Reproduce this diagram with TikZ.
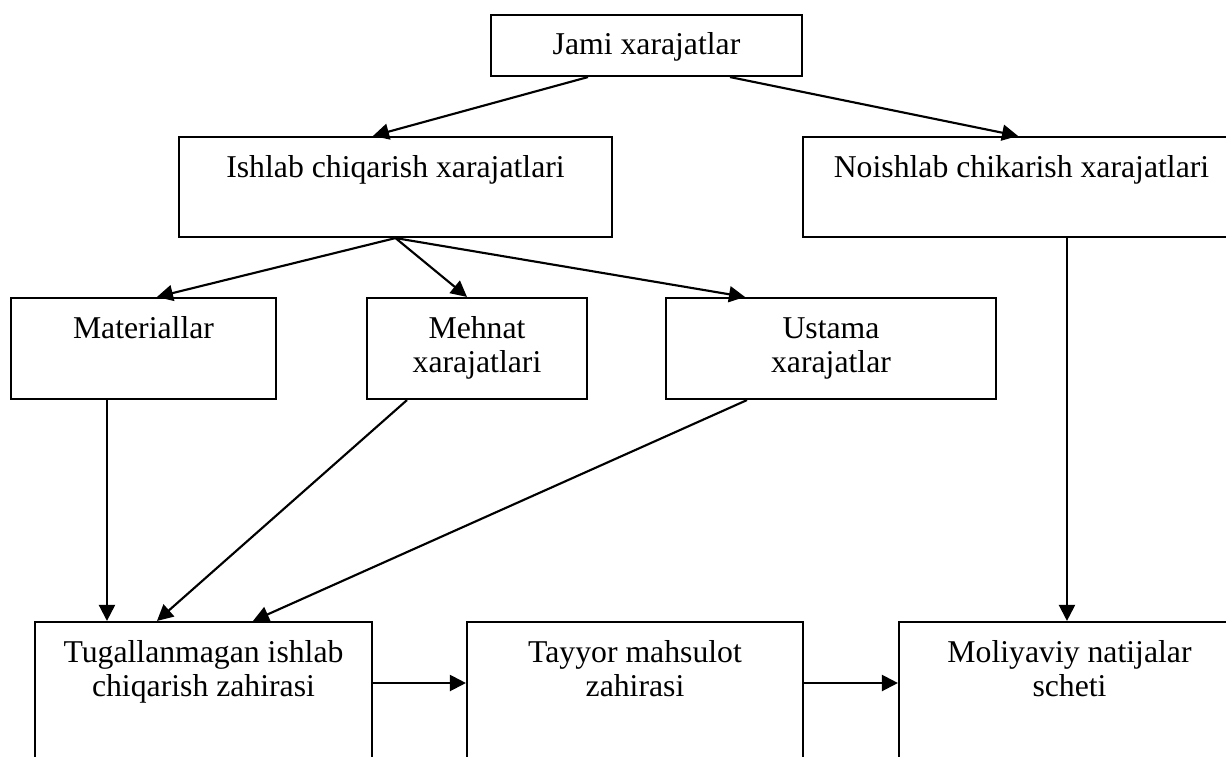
\documentclass[tikz,border=0pt]{standalone}
\usepackage{fontspec}
\setmainfont{Liberation Serif}
\usetikzlibrary{arrows.meta}

\begin{document}
\begin{tikzpicture}[x=0.75pt, y=-0.75pt,
  box/.style={draw, line width=1.6pt, inner xsep=2pt, inner ysep=0pt, align=center, text height=30pt, font=\fontsize{23.8}{26}\selectfont},
  twoline/.style={text height=56pt},
  arr/.style={line width=1.6pt, -{Triangle[length=12pt, width=12pt]}}]
\clip (0,0) rectangle (1226,756);
% top level
\node[box, minimum width=233.25pt, minimum height=45.75pt, text depth=15.75pt] (jami) at (646.5,45.5) {Jami xarajatlar};
\node[box, minimum width=324.75pt, minimum height=75pt, text depth=45pt] (ish) at (395.5,187) {Ishlab chiqarish xarajatlari};
\node[box, minimum width=327.75pt, minimum height=75pt, text depth=45pt] (noi) at (1021.5,187) {Noishlab chikarish xarajatlari};
% cost items
\node[box, minimum width=198.75pt, minimum height=75.75pt, text depth=45.75pt] (mat) at (143.5,348.5) {Materiallar};
\node[box, twoline, minimum width=165pt, minimum height=75.75pt, text depth=19.75pt] (meh) at (477,348.5) {Mehnat\\xarajatlari};
\node[box, twoline, minimum width=247.5pt, minimum height=75.75pt, text depth=19.75pt] (ust) at (831,348.5) {Ustama\\xarajatlar};
% accounts
\node[box, twoline, minimum width=252.75pt, minimum height=111pt, text depth=55pt] (tug) at (203.5,696) {Tugallanmagan ishlab\\chiqarish zahirasi};
\node[box, twoline, minimum width=252pt, minimum height=111pt, text depth=55pt] (tay) at (635,696) {Tayyor mahsulot\\zahirasi};
\node[box, twoline, minimum width=255.75pt, minimum height=111pt, text depth=55pt] (mol) at (1069.5,696) {Moliyaviy natijalar\\scheti};
% arrows
\draw[arr] ([xshift=-43.9pt]jami.south) -- ([xshift=-16.9pt]ish.north);
\draw[arr] ([xshift=62.6pt]jami.south) -- ([xshift=-2.6pt]noi.north);
\draw[arr] (ish.south) -- ([xshift=10.1pt]mat.north);
\draw[arr] (ish.south) -- ([xshift=-7.5pt]meh.north);
\draw[arr] (ish.south) -- ([xshift=-64.5pt]ust.north);
\draw[arr] ([xshift=-27.4pt]mat.south) -- ([xshift=-27.4pt]mat.south |- tug.north);
\draw[arr] ([xshift=-52.5pt]meh.south) -- ([xshift=-34.9pt]tug.north);
\draw[arr] ([xshift=-63pt]ust.south) -- ([xshift=37.1pt]tug.north);
\draw[arr] ([xshift=34.1pt]noi.south) -- ([xshift=34.1pt]noi.south |- mol.north);
\draw[arr] ([yshift=9.75pt]tug.east) -- ([yshift=9.75pt]tug.east -| tay.west);
\draw[arr] ([yshift=9.75pt]tay.east) -- ([yshift=9.75pt]tay.east -| mol.west);
\end{tikzpicture}
\end{document}
